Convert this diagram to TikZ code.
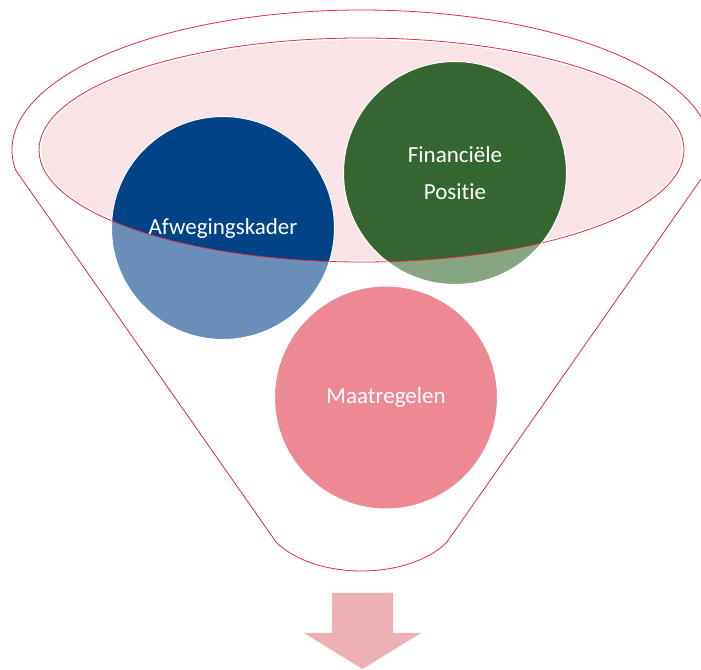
\documentclass[tikz,border=0pt]{standalone}
\usepackage{fontspec}
\setmainfont{Carlito}[Ligatures=NoCommon]

\definecolor{funnelred}{RGB}{226,42,64}
\definecolor{rimpink}{RGB}{249,227,230}
\definecolor{kaderblue}{RGB}{0,68,135}
\definecolor{kaderbluelight}{RGB}{104,142,185}
\definecolor{positiegreen}{RGB}{53,101,48}
\definecolor{positiegreenlight}{RGB}{135,164,131}
\definecolor{maatpink}{RGB}{236,137,148}
\definecolor{arrowpink}{RGB}{237,176,181}

\begin{document}
\begin{tikzpicture}[x=1pt, y=1pt,
  funnel/.style={draw=funnelred, line width=0.8pt},
  bubble/.style={circle, draw=white, line width=1pt, minimum size=223pt, inner sep=0pt,
    text=white, align=center, font=\fontsize{23}{37}\selectfont}]

\clip (0,0) rectangle (701,669);

% Funnel outline
\draw[funnel] (361.5,519) ++(188.2:349.5 and 140)
  arc[start angle=188.2, end angle=-8.2, x radius=349.5, y radius=140]
  -- (447,127) arc[start angle=-30, end angle=-150, x radius=98.7, y radius=58] -- cycle;

% Rim of the funnel
\fill[rimpink] (361.5,519) ellipse[x radius=320, y radius=110];

% Bubbles, light part
\fill[kaderbluelight] (223,441) circle[radius=111.5];
\fill[positiegreenlight] (455,496) circle[radius=111.5];
\fill[maatpink] (386,271.5) circle[radius=111.5];

% Bubbles, dark part inside the rim
\begin{scope}
\clip (361.5,519) ellipse[x radius=322.5, y radius=112];
\fill[kaderblue] (223,441) circle[radius=111.5];
\fill[positiegreen] (455,496) circle[radius=111.5];
\end{scope}
\draw[funnel] (361.5,519) ellipse[x radius=322.5, y radius=112];

% Labels
\node[bubble] (afweging) at (223,441) {Afwegingskader};
\node[bubble] (financieel) at (455,496) {Financiële\\Positie};
\node[bubble] (maatregel) at (386,271.5) {Maatregelen};

% Arrow
\fill[arrowpink] (332,76) -- (393,76) -- (393,36) -- (421,36) -- (362.5,0)
  -- (304,36) -- (332,36) -- cycle;

\end{tikzpicture}
\end{document}
